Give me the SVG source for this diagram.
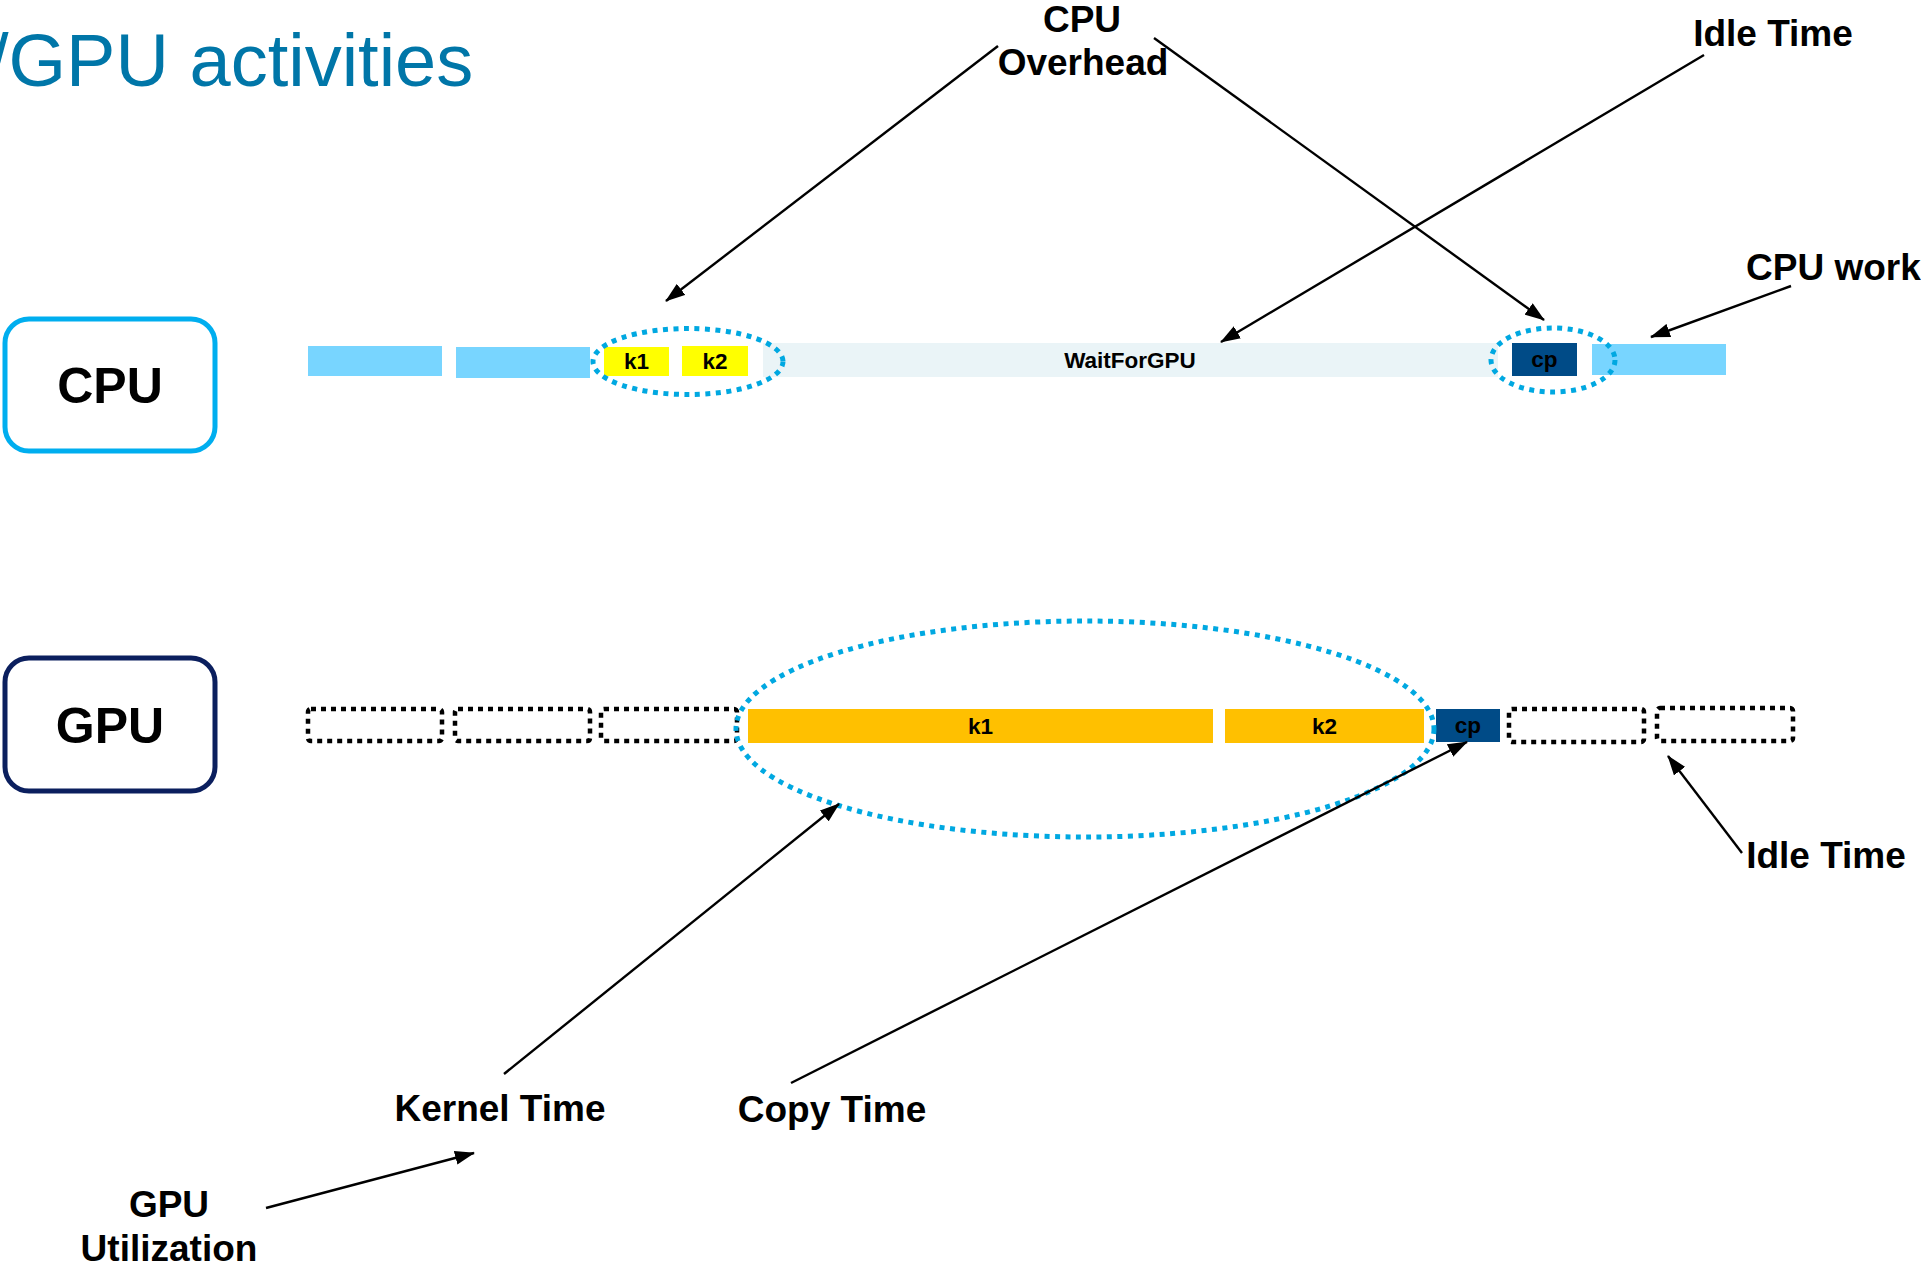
<svg xmlns="http://www.w3.org/2000/svg" width="1921" height="1269" viewBox="0 0 1921 1269">
  <style>
    .lbl { font-family: "Liberation Sans", Arial, sans-serif; font-weight: bold; fill: #000; }
    .big { font-size: 37px; text-anchor: middle; }
    .unit { font-size: 50px; text-anchor: middle; }
    .small { font-size: 22.5px; text-anchor: middle; }
    .title { font-family: "Liberation Sans", Arial, sans-serif; font-size: 74px; fill: #0076A8; }
    .cpuwork { fill: #78D5FF; }
    .wait { fill: #EAF4F7; }
    .kcpu { fill: #FFFF00; }
    .kgpu { fill: #FFC000; }
    .copy { fill: #004B87; }
    .idle { fill: none; stroke: #000; stroke-width: 4.5; stroke-dasharray: 5 5; }
    .focus { fill: none; stroke: #00A8E1; stroke-width: 5; stroke-dasharray: 5 5.5; }
    .conn { stroke: #000; stroke-width: 2.4; fill: none; marker-end: url(#arrow); }
  </style>
  <defs>
    <marker id="arrow" viewBox="0 0 20 14" refX="19" refY="7" markerWidth="20" markerHeight="14" markerUnits="userSpaceOnUse" orient="auto">
      <path d="M0,0 L20,7 L0,14 z" fill="#000"/>
    </marker>
  </defs>

  <rect width="1921" height="1269" fill="#fff"/>

  <!-- slide heading, clipped at the left edge -->
  <text class="title" x="-12" y="86">/GPU activities</text>

  <!-- processor labels -->
  <g id="cpu">
    <rect x="5" y="319" width="210" height="132" rx="24" fill="#fff" stroke="#00AEEF" stroke-width="5"/>
    <text class="lbl unit" x="110" y="403">CPU</text>
  </g>
  <g id="gpu">
    <rect x="5" y="658" width="210" height="133" rx="24" fill="#fff" stroke="#0B1F5E" stroke-width="5"/>
    <text class="lbl unit" x="110" y="743">GPU</text>
  </g>

  <!-- CPU timeline -->
  <g id="cpu-timeline">
    <rect class="cpuwork" x="308" y="346" width="134" height="30"/>
    <rect class="cpuwork" x="456" y="347" width="134" height="31"/>
    <rect class="kcpu" x="604" y="347" width="65" height="29"/>
    <text class="lbl small" x="636.5" y="369">k1</text>
    <rect class="kcpu" x="682" y="346" width="66" height="30"/>
    <text class="lbl small" x="715" y="369">k2</text>
    <rect class="wait" x="763" y="343" width="735" height="34"/>
    <text class="lbl small" x="1130" y="368" font-size="24">WaitForGPU</text>
    <rect class="copy" x="1512" y="343" width="65" height="33"/>
    <text class="lbl small" x="1544.5" y="367">cp</text>
    <rect class="cpuwork" x="1592" y="344" width="134" height="31"/>
  </g>

  <!-- GPU timeline -->
  <g id="gpu-timeline">
    <rect class="idle" x="308" y="709" width="134" height="32" rx="3"/>
    <rect class="idle" x="455" y="709" width="135" height="32" rx="3"/>
    <rect class="idle" x="601" y="709" width="136" height="32" rx="3"/>
    <rect class="kgpu" x="748" y="709" width="465" height="34"/>
    <text class="lbl small" x="980.5" y="734">k1</text>
    <rect class="kgpu" x="1225" y="709" width="199" height="34"/>
    <text class="lbl small" x="1324.5" y="734">k2</text>
    <rect class="copy" x="1436" y="709" width="64" height="33"/>
    <text class="lbl small" x="1468" y="733">cp</text>
    <rect class="idle" x="1509" y="709" width="135" height="33" rx="3"/>
    <rect class="idle" x="1657" y="708" width="136" height="33" rx="3"/>
  </g>

  <!-- highlight rings -->
  <g id="highlights">
    <ellipse class="focus" cx="688" cy="361.5" rx="95" ry="33"/>
    <ellipse class="focus" cx="1553" cy="360" rx="62" ry="32"/>
    <ellipse class="focus" cx="1085" cy="729" rx="349" ry="108"/>
  </g>

  <!-- callout labels -->
  <g id="callouts">
    <text class="lbl big" x="1082" y="32">CPU</text>
    <text class="lbl big" x="1083" y="75">Overhead</text>
    <text class="lbl big" x="1773" y="46">Idle Time</text>
    <text class="lbl" font-size="37" x="1746" y="280">CPU work</text>
    <text class="lbl big" x="1826" y="868">Idle Time</text>
    <text class="lbl big" x="500" y="1121">Kernel Time</text>
    <text class="lbl big" x="832" y="1122">Copy Time</text>
    <text class="lbl big" x="169" y="1217">GPU</text>
    <text class="lbl big" x="169" y="1261">Utilization</text>
  </g>

  <!-- connectors -->
  <g id="connectors">
    <line class="conn" x1="998" y1="46" x2="666" y2="301"/>
    <line class="conn" x1="1154" y1="38" x2="1544" y2="320"/>
    <line class="conn" x1="1704" y1="55" x2="1221" y2="342"/>
    <line class="conn" x1="1791" y1="286" x2="1651" y2="337"/>
    <line class="conn" x1="504" y1="1074" x2="839" y2="804"/>
    <line class="conn" x1="791" y1="1083" x2="1467" y2="742"/>
    <line class="conn" x1="1742" y1="853" x2="1668" y2="756"/>
    <line class="conn" x1="266" y1="1208" x2="474" y2="1153"/>
  </g>
</svg>
